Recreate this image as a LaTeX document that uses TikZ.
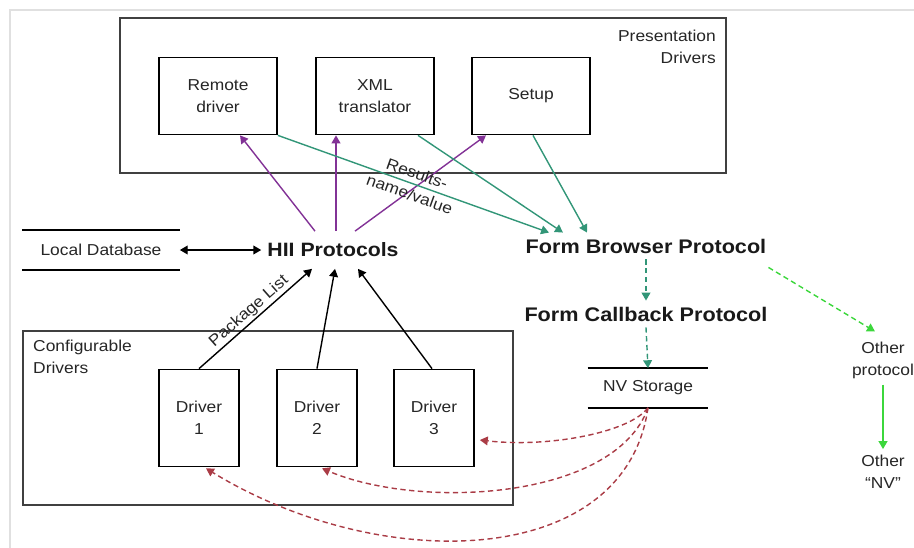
\documentclass[tikz,border=0pt]{standalone}
\usepackage{fontspec}
\setmainfont{Liberation Sans}[FakeStretch=1.1]
\usetikzlibrary{arrows.meta,calc}

\definecolor{hiipurple}{RGB}{130,50,150}
\definecolor{formgreen}{RGB}{50,150,120}
\definecolor{nvred}{RGB}{170,60,70}
\definecolor{othergreen}{RGB}{60,215,60}

\begin{document}
\begin{tikzpicture}[x=0.02cm, y=-0.02cm,
  >={Triangle[length=4.5pt,width=5pt]},
  small/.style={font=\fontsize{9}{12.5}\selectfont, text=black!85, align=center},
  box/.style={small, draw, line width=1pt},
  pres box/.style={box, minimum width=2.36cm, minimum height=1.54cm},
  drv box/.style={box, minimum width=1.6cm, minimum height=1.94cm},
  frame/.style={draw=black!75, line width=1.1pt},
  proto/.style={font=\fontsize{11.2}{13}\bfseries\selectfont, text=black!90},
  store/.style={small, minimum height=0.78cm},
  bar/.style={line width=1.5pt},
  link/.style={->, line width=0.8pt}]
  \useasboundingbox (0,0) rectangle (914,548);
  \draw[black!12, thick] (914,10) -- (10,10) -- (10,548);

  % Presentation drivers
  \draw[frame] (120,18) rectangle (726,173);
  \node[small, align=right, anchor=north east] (presl) at (722,24) {Presentation\\Drivers};
  \node[pres box] (remote) at (218,96) {Remote\\driver};
  \node[pres box] (xml) at (375,96) {XML\\translator};
  \node[pres box] (setup) at (531,96) {Setup};

  % Protocols
  \node[proto, font=\fontsize{11}{13}\bfseries\selectfont, inner ysep=6.5pt] (hii) at (333,250) {HII Protocols};
  \node[proto] (fbp) at (646,246) {Form Browser Protocol};
  \node[proto] (fcp) at (646,314) {Form Callback Protocol};

  % Stores
  \node[store, minimum width=3.14cm] (db) at (101,250) {Local Database};
  \draw[bar] (db.north west) -- (db.north east);
  \draw[bar] (db.south west) -- (db.south east);
  \node[store, minimum width=2.4cm] (nv) at (648,388) {NV Storage};
  \draw[bar] (nv.north west) -- (nv.north east);
  \draw[bar] (nv.south west) -- (nv.south east);

  \node[small] (otherp) at (883,360) {Other\\protocol};
  \node[small] (othernv) at (883,472) {Other\\“NV”};

  % Configurable drivers
  \draw[frame] (23,331) rectangle (513,505);
  \node[small, align=left, anchor=north west] (confl) at (27,334) {Configurable\\Drivers};
  \node[drv box] (drv1) at (199,418) {Driver\\1};
  \node[drv box] (drv2) at (317,418) {Driver\\2};
  \node[drv box] (drv3) at (434,418) {Driver\\3};

  % HII to presentation
  \draw[link, hiipurple] ($(hii.north)+(-18,0)$) -- ($(remote.south)+(22,0)$);
  \draw[link, hiipurple] ($(hii.north)+(3,0)$) -- ($(xml.south)+(-39,0)$);
  \draw[link, hiipurple] ($(hii.north)+(22,0)$) -- ($(setup.south)+(-45,0)$);

  % presentation to form browser
  \draw[link, formgreen] (remote.south east) -- node[small, sloped] (res) {Results-\\name/value} ($(fbp.north)+(-97,0)$);
  \draw[link, formgreen] ($(xml.south)+(43,0)$) -- ($(fbp.north)+(-83,0)$);
  \draw[link, formgreen] ($(setup.south)+(2,0)$) -- ($(fbp.north)+(-59,0)$);

  \draw[<->, line width=0.8pt] (db.east) -- (hii.west);

  % drivers to HII
  \draw[link] (drv1.north) -- node[small, sloped, above, inner sep=1pt] (pkg) {Package List} ($(hii.south)+(-21,0)$);
  \draw[link] (drv2.north) -- ($(hii.south)+(2,0)$);
  \draw[link] ($(drv3.north)+(-2,0)$) -- ($(hii.south)+(25,0)$);

  % form protocols
  \draw[link, formgreen, densely dashed] (fbp.south) -- (fcp.north);
  \draw[link, formgreen, densely dashed] (fcp.south) -- (nv.north);
  \draw[link, othergreen, densely dashed] ($(fbp.south east)+(-4,8)$) -- ($(otherp.north)+(-8,-4)$);
  \draw[link, othergreen] (otherp.south) -- (othernv.north);

  % NV storage back to drivers
  \draw[link, nvred, densely dashed] (nv.south) .. controls (630,432) and (550,448) .. ($(drv3.east)+(5,22)$);
  \draw[link, nvred, densely dashed] (nv.south) .. controls (615,500) and (420,510) .. ($(drv2.south)+(5,1)$);
  \draw[link, nvred, densely dashed] (nv.south) .. controls (625,570) and (380,575) .. ($(drv1.south)+(7,1)$);
\end{tikzpicture}
\end{document}
